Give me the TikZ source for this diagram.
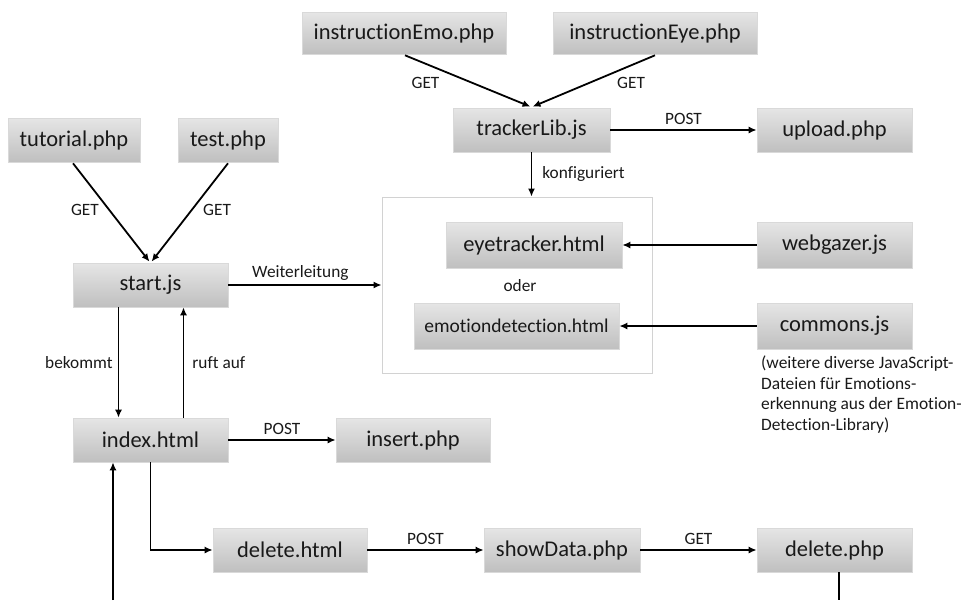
\documentclass[tikz,border=0pt]{standalone}
\usepackage{fontspec}
\setmainfont{Carlito}[Ligatures=NoCommon]
\usetikzlibrary{arrows.meta,calc}
\tikzset{
  box/.style={rectangle, top color=gray!20, bottom color=gray!50, draw=gray!30, line width=0.6pt,
    inner sep=0pt, font=\fontsize{22.5}{26}\selectfont, text=black!90},
  lbl/.style={font=\fontsize{17.3}{20}\selectfont, text=black!90, inner sep=1pt},
  conn/.style={line width=1.8pt, -{Latex[length=8pt,width=7pt]}},
  plain/.style={line width=1.8pt}
}
\begin{document}
\begin{tikzpicture}[x=1pt,y=-1pt]
\useasboundingbox (0,0) rectangle (968,600);
% container
\node[draw=gray!35, line width=0.8pt, minimum width=270pt, minimum height=176pt, inner sep=0pt] (cont) at (517,285) {};
% boxes
\node[box, minimum width=204pt, minimum height=42pt] (iemo) at (404,33) {instructionEmo.php};
\node[box, minimum width=204pt, minimum height=42pt] (ieye) at (655,33) {instructionEye.php};
\node[box, minimum width=157pt, minimum height=44pt] (track) at (531.5,130) {trackerLib.js};
\node[box, minimum width=155pt, minimum height=44pt] (upload) at (834.5,130) {upload.php};
\node[box, minimum width=132pt, minimum height=44pt] (tut) at (74,140) {tutorial.php};
\node[box, minimum width=100pt, minimum height=44pt] (test) at (228,140) {test.php};
\node[box, minimum width=155pt, minimum height=44pt] (start) at (150.5,285) {start.js};
\node[box, minimum width=176pt, minimum height=46pt] (eye) at (534,245) {eyetracker.html};
\node[lbl] (oder) at (520,286) {oder};
\node[box, minimum width=205pt, minimum height=46pt, font=\fontsize{19.5}{23}\selectfont] (emo) at (516.5,326) {emotiondetection.html};
\node[box, minimum width=155pt, minimum height=46pt] (webg) at (834.5,245) {webgazer.js};
\node[box, minimum width=155pt, minimum height=46pt] (comm) at (834.5,326) {commons.js};
\node[lbl, anchor=north west, align=left, font=\fontsize{17.4}{20.5}\selectfont] (note) at (760,355)
  {(weitere diverse JavaScript-\\Dateien für Emotions-\\erkennung aus der Emotion-\\Detection-Library)};
\node[box, minimum width=155pt, minimum height=44pt] (index) at (150.5,440) {index.html};
\node[box, minimum width=154pt, minimum height=44pt] (insert) at (413,440) {insert.php};
\node[box, minimum width=154pt, minimum height=44pt] (delh) at (290,550) {delete.html};
\node[box, minimum width=156pt, minimum height=44pt] (show) at (562,550) {showData.php};
\node[box, minimum width=155pt, minimum height=44pt] (delp) at (834.5,550) {delete.php};
\coordinate (bl) at (113,600);
\coordinate (br) at (839,600);

% connectors
\draw[conn] ($(tut.south)+(-1,1)$) -- node[lbl, pos=0.47, xshift=-24pt] {GET} ($(start.north)+(-1,-1)$);
\draw[conn] ($(test.south)+(0,1)$) -- node[lbl, pos=0.47, xshift=25pt] {GET} ($(start.north)+(1,-1)$);
\draw[conn] ($(iemo.south)+(1,1)$) -- node[lbl, pos=0.53, xshift=-46pt] {GET} ($(track.north)+(-1,-1)$);
\draw[conn] ($(ieye.south)+(0,1)$) -- node[lbl, pos=0.53, xshift=41pt] {GET} ($(track.north)+(1,-1)$);
\draw[conn] (track.east) -- node[lbl, above=3pt] {POST} (upload.west);
\draw[conn] (track.south) -- node[lbl, right=9pt] {konfiguriert} (track.south |- cont.north);
\draw[conn] (start.east) -- node[lbl, above=3pt, pos=0.47] {Weiterleitung} (cont.west |- start.east);
\draw[conn] (webg.west) -- (eye.east);
\draw[conn] (comm.west) -- (emo.east);
\draw[conn] ($(start.south)+(-32,0)$) -- node[lbl, left=4pt] {bekommt} ($(index.north)+(-32,0)$);
\draw[conn] ($(index.north)+(33,0)$) -- node[lbl, right=7pt] {ruft auf} ($(start.south)+(33,0)$);
\draw[conn] (index.east) -- node[lbl, above=3pt] {POST} (insert.west);
\draw[conn] (index.south) |- (delh.west);
\draw[conn] (delh.east) -- node[lbl, above=3pt] {POST} (show.west);
\draw[conn] (show.east) -- node[lbl, above=3pt] {GET} (delp.west);
\draw[plain] (delp.south -| br) -- (br);
\draw[conn] (bl) -- (bl |- index.south);
\end{tikzpicture}
\end{document}
